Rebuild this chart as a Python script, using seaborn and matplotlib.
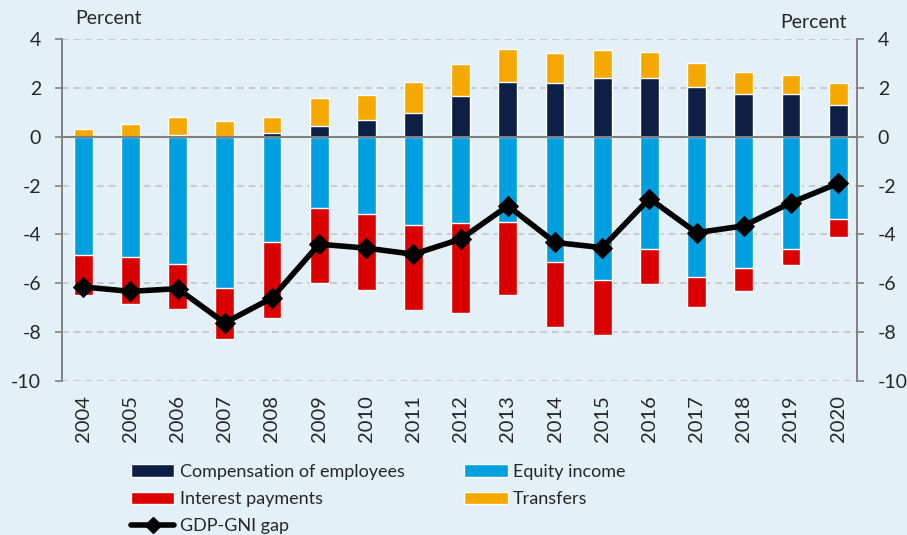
import numpy as np
import pandas as pd
import matplotlib
matplotlib.use("Agg")
import matplotlib.pyplot as plt
import seaborn as sns
from matplotlib.lines import Line2D
from matplotlib.patches import Patch

years = [str(y) for y in range(2004, 2021)]
compensation = [0.0, 0.0, 0.07, 0.0, 0.14, 0.45, 0.70, 0.97, 1.67, 2.24, 2.19, 2.42, 2.40, 2.04, 1.76, 1.75, 1.28]
transfers = [0.31, 0.52, 0.74, 0.64, 0.65, 1.12, 1.01, 1.28, 1.31, 1.37, 1.24, 1.15, 1.07, 0.98, 0.89, 0.79, 0.91]
equity = [-4.84, -4.92, -5.20, -6.19, -4.30, -2.91, -3.18, -3.62, -3.55, -3.51, -5.12, -5.85, -4.60, -5.74, -5.38, -4.58, -3.37]
interest = [-1.65, -1.94, -1.84, -2.08, -3.13, -3.07, -3.09, -3.46, -3.65, -2.98, -2.67, -2.28, -1.44, -1.23, -0.92, -0.69, -0.73]
gap = [-6.15, -6.33, -6.22, -7.62, -6.60, -4.40, -4.56, -4.81, -4.19, -2.83, -4.33, -4.54, -2.53, -3.93, -3.65, -2.70, -1.91]
yticks = [4, 2, 0, -2, -4, -6, -8, -10]

c_comp = "#0D1F45"
c_eq = "#009FDF"
c_int = "#DB0000"
c_tr = "#F5A800"
bg = "#E3F0F7"

sns.set_theme(style="white")
plt.rcParams["font.family"] = ["Lato", "DejaVu Sans"]

df = pd.DataFrame({"year": years, "comp": compensation, "tr": transfers,
                   "eq": equity, "int": interest, "gap": gap})
df["pos_total"] = df["comp"] + df["tr"]
df["neg_total"] = df["eq"] + df["int"]

fig = plt.figure(figsize=(9.07, 5.35), dpi=100, facecolor=bg)
ax = fig.add_axes([62 / 907, 1 - 381 / 535, (857 - 62) / 907, (381 - 39) / 535])
ax.set_facecolor(bg)

for yv in yticks:
    if yv == 0:
        continue
    ax.axhline(yv, color="#C4C4C4", lw=1.2, ls=(0, (4, 3)), zorder=0)

w = 0.40
sns.barplot(data=df, x="year", y="pos_total", color=c_tr, width=w, saturation=1, ax=ax, zorder=2)
sns.barplot(data=df, x="year", y="comp", color=c_comp, width=w, saturation=1, ax=ax, zorder=3)
sns.barplot(data=df, x="year", y="neg_total", color=c_int, width=w, saturation=1, ax=ax, zorder=2)
sns.barplot(data=df, x="year", y="eq", color=c_eq, width=w, saturation=1, ax=ax, zorder=3)

ax.axhline(0, color="#808080", lw=1.5, zorder=4)

sns.lineplot(x=np.arange(len(years)), y=df["gap"], color="black", lw=4, marker="D",
             markersize=10, markeredgecolor="black", ax=ax, zorder=6)

ax.set_xlim(-0.45, 16.4)
ax.set_ylim(-10, 4)
ax.set_yticks(yticks)
ax.set_yticklabels([str(v) for v in yticks], fontsize=14)
ax.set_xticks(range(len(years)))
ax.set_xticklabels(years, rotation=90, fontsize=14.5)
ax.set_xlabel("")
ax.set_ylabel("")
ax.tick_params(axis="x", length=0, pad=10)
ax.tick_params(axis="y", left=True, length=5, width=1.2, color="#808080", direction="out", pad=10)

ax2 = ax.twinx()
ax2.set_ylim(-10, 4)
ax2.set_yticks(yticks)
ax2.set_yticklabels([str(v) for v in yticks], fontsize=14)
ax2.tick_params(axis="y", right=True, length=5, width=1.2, color="#808080", direction="out", pad=10)

for a in (ax, ax2):
    a.spines["top"].set_visible(False)
    a.spines["bottom"].set_visible(False)
    a.spines["left"].set_color("#808080")
    a.spines["right"].set_color("#808080")
    a.spines["left"].set_linewidth(1.2)
    a.spines["right"].set_linewidth(1.2)

fig.text(75 / 907, 1 - 18 / 535, "Percent", fontsize=14, va="center", ha="left")
fig.text(847 / 907, 1 - 22 / 535, "Percent", fontsize=14, va="center", ha="right")

handles = [
    Patch(facecolor=c_comp, label="Compensation of employees"),
    Patch(facecolor=c_int, label="Interest payments"),
    Line2D([0], [0], color="black", lw=4, marker="D", markersize=8, label="GDP-GNI gap"),
    Patch(facecolor=c_eq, label="Equity income"),
    Patch(facecolor=c_tr, label="Transfers"),
]
fig.legend(handles=handles, ncol=2, loc="upper left", bbox_to_anchor=(131 / 907, 1 - 464 / 535),
           frameon=False, fontsize=13, handlelength=2.4, handleheight=0.7, handletextpad=0.3,
           columnspacing=3.3, labelspacing=0.62, borderpad=0, borderaxespad=0)

fig.savefig("out.png", dpi=100, facecolor=bg)
